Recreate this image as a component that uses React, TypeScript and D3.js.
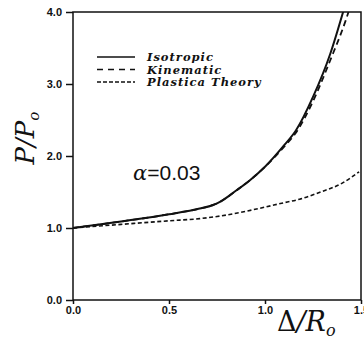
import React, { useEffect, useRef } from 'react';
import * as d3 from 'd3';

// Δ/R0 positions and P/P0 values
const isoX = [0, 0.25, 0.5, 0.66, 0.73, 0.77, 0.85, 0.92, 1.0, 1.1, 1.16, 1.25, 1.34, 1.41];
const isoY = [1.0, 1.09, 1.19, 1.27, 1.32, 1.37, 1.52, 1.66, 1.85, 2.15, 2.35, 2.82, 3.42, 4.03];

const kinX = [0, 0.25, 0.5, 0.66, 0.73, 0.77, 0.85, 0.92, 1.0, 1.1, 1.16, 1.25, 1.34, 1.42, 1.435];
const kinY = [1.0, 1.09, 1.19, 1.27, 1.32, 1.37, 1.52, 1.66, 1.85, 2.13, 2.32, 2.76, 3.33, 3.88, 4.0];

const plaX = [0, 0.25, 0.5, 0.66, 0.75, 1.0, 1.08, 1.18, 1.29, 1.4, 1.49];
const plaY = [1.0, 1.05, 1.1, 1.13, 1.16, 1.29, 1.34, 1.4, 1.5, 1.62, 1.78];

const xTicks = [0, 0.5, 1.0, 1.5];
const yTicks = [0, 1, 2, 3, 4];

const legendLabels = ['Isotropic', 'Kinematic', 'Plastica Theory'];
const legendDash = ['none', '6,5', '4,2'];

export default function App() {
  const svgRef = useRef<SVGSVGElement>(null);

  useEffect(() => {
    if (!svgRef.current) return;
    const svg = d3.select(svgRef.current);
    svg.selectAll('*').remove();

    const left = 73, right = 361, top = 12, bottom = 300;

    const x = d3.scaleLinear().domain([0, 1.5]).range([left, right]);
    const y = d3.scaleLinear().domain([0, 4]).range([bottom, top]);

    svg.append('clipPath').attr('id', 'plot')
      .append('rect')
      .attr('x', left).attr('y', top)
      .attr('width', right - left).attr('height', bottom - top);

    // frame
    svg.append('rect')
      .attr('x', left).attr('y', top)
      .attr('width', right - left).attr('height', bottom - top)
      .attr('fill', 'none').attr('stroke', '#111').attr('stroke-width', 1.5);

    const tickFont = 'Liberation Sans, Arial, sans-serif';

    // y axis
    const yAxis = svg.append('g')
      .attr('transform', `translate(${left},0)`)
      .call(d3.axisLeft(y).tickValues(yTicks).tickSize(7).tickPadding(4).tickFormat(d3.format('.1f')));
    yAxis.select('.domain').remove();
    yAxis.selectAll('line').attr('stroke', '#111').attr('stroke-width', 1.5);
    yAxis.selectAll('text')
      .attr('fill', '#111')
      .style('font-family', tickFont)
      .style('font-weight', 'bold')
      .style('font-size', '11px');

    // x axis
    const xAxis = svg.append('g')
      .attr('transform', `translate(0,${bottom})`)
      .call(d3.axisBottom(x).tickValues(xTicks).tickSize(4).tickPadding(2).tickFormat(d3.format('.1f')));
    xAxis.select('.domain').remove();
    xAxis.selectAll('line').attr('stroke', '#111').attr('stroke-width', 1.5);
    xAxis.selectAll('text')
      .attr('fill', '#111')
      .style('font-family', tickFont)
      .style('font-weight', 'bold')
      .style('font-size', '11px');

    const line = d3.line<[number, number]>()
      .x(d => x(d[0]))
      .y(d => y(d[1]))
      .curve(d3.curveMonotoneX);

    const series = [
      { xs: isoX, ys: isoY, dash: 'none', w: 2 },
      { xs: kinX, ys: kinY, dash: '6,4', w: 1.8 },
      { xs: plaX, ys: plaY, dash: '4,2.5', w: 1.6 },
    ];

    const g = svg.append('g').attr('clip-path', 'url(#plot)');
    series.forEach(s => {
      g.append('path')
        .datum(s.xs.map((v, i) => [v, s.ys[i]] as [number, number]))
        .attr('d', line)
        .attr('fill', 'none')
        .attr('stroke', '#111')
        .attr('stroke-width', s.w)
        .attr('stroke-dasharray', s.dash);
    });

    // legend
    const lg = svg.append('g');
    legendLabels.forEach((lab, i) => {
      const ly = 57 + i * 12.5;
      lg.append('line')
        .attr('x1', 97).attr('x2', 135)
        .attr('y1', ly).attr('y2', ly)
        .attr('stroke', '#111').attr('stroke-width', 1.4)
        .attr('stroke-dasharray', legendDash[i]);
      lg.append('text')
        .attr('x', 147).attr('y', ly + 4)
        .style('font-family', 'DejaVu Serif, serif')
        .style('font-style', 'italic')
        .style('font-weight', 'bold')
        .style('font-size', '11.5px')
        .style('letter-spacing', '1px')
        .attr('fill', '#111')
        .text(lab);
    });

    // annotation
    const ann = svg.append('text')
      .attr('x', 133).attr('y', 180)
      .style('font-family', 'Liberation Sans, Arial, sans-serif')
      .style('font-size', '21px')
      .attr('fill', '#111');
    ann.append('tspan').style('font-style', 'italic').style('font-family', 'DejaVu Serif, serif').text('α');
    ann.append('tspan').text('=0.03');

    // y label
    const yl = svg.append('text')
      .attr('transform', 'translate(34,138) rotate(-90)')
      .attr('text-anchor', 'middle')
      .style('font-family', 'DejaVu Serif, serif')
      .style('font-style', 'italic')
      .style('font-size', '26px')
      .attr('fill', '#111');
    yl.append('tspan').text('P/P');
    yl.append('tspan').attr('dy', 5).style('font-size', '15px').text('o');

    // x label
    const xl = svg.append('text')
      .attr('x', 277).attr('y', 331)
      .style('font-family', 'DejaVu Serif, serif')
      .style('font-size', '27px')
      .attr('fill', '#111');
    xl.append('tspan').text('Δ');
    xl.append('tspan').style('font-style', 'italic').text('/R');
    xl.append('tspan').attr('dy', 5).style('font-size', '16px').style('font-style', 'italic').text('o');
  }, []);

  return (
    <svg
      ref={svgRef}
      width={364}
      height={342}
      style={{ position: 'absolute', left: 0, top: 0, background: '#fff' }}
    />
  );
}
